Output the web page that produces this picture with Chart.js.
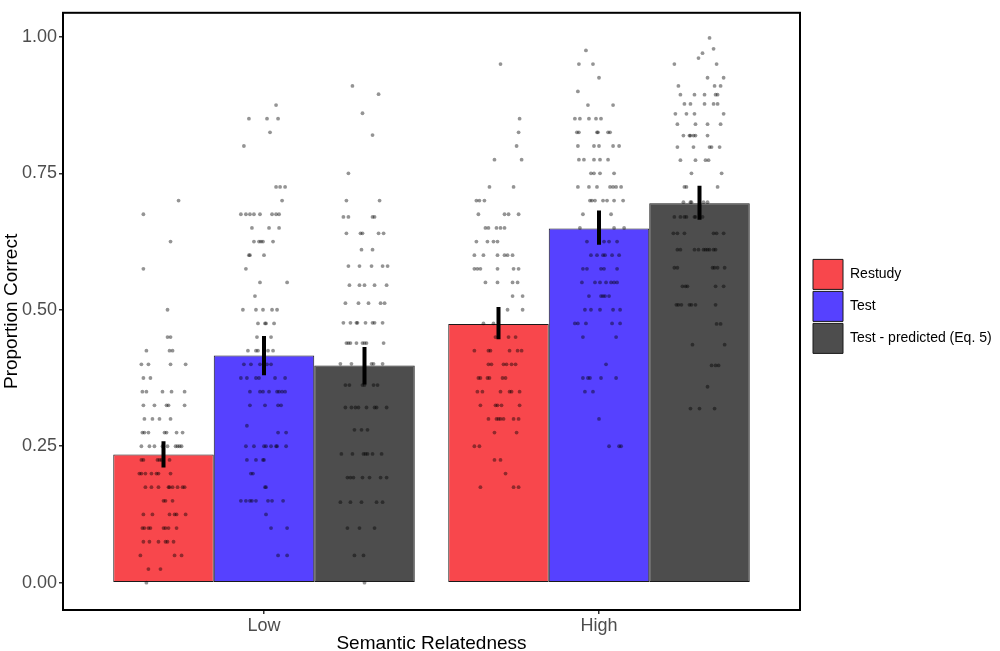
<!DOCTYPE html>
<html>
<head>
<meta charset="utf-8">
<script src="https://cdn.jsdelivr.net/npm/chart.js@4.4.1/dist/chart.umd.min.js"></script>
<style>
  html, body { margin: 0; padding: 0; background: #fff; }
  #wrap { width: 1000px; height: 651px; position: relative; }
</style>
</head>
<body>
<div id="wrap"><canvas id="chart"></canvas></div>
<script>
// x categories and legend entries
const categories = ['Low', 'High'];
const conditions = ['Restudy', 'Test', 'Test - predicted (Eq. 5)'];
const barColors = ['#f8474c', '#5641ff', '#4d4d4d'];
const yTicks = [0, 0.25, 0.5, 0.75, 1];

// bar heights (mean proportion correct) per category
const restudyMeans = [0.235, 0.474];
const testMeans = [0.416, 0.649];
const predictedMeans = [0.398, 0.695];

// error bar [low, high] per category
const restudyErr = [[0.211, 0.259], [0.446, 0.505]];
const testErr = [[0.380, 0.452], [0.619, 0.682]];
const predictedErr = [[0.363, 0.432], [0.665, 0.727]];

// individual subjects: [score, [jitter in % of bar width, ...]]
const lowRestudyPts = [
  [0.70, [15]], [0.675, [-20]], [0.625, [7]], [0.575, [-20]], [0.50, [4]],
  [0.45, [4, 7]], [0.425, [-17, 6, 9]], [0.40, [-22, -15, 7, 22]], [0.375, [-20, -13]],
  [0.35, [-21, -17, -1, 8, 21]], [0.325, [-20, -9, 3, 5, 21]], [0.30, [-19, -11, -4, 7]],
  [0.275, [-21, -19, -15, 1, 3, 13, 19]], [0.25, [-22, -14, -9, -1, 4, 12, 14, 16, 18]],
  [0.225, [-22, -20, -6, -4, -2, 6]], [0.20, [-24, -22, -18, -12, -7, -5, 7]],
  [0.175, [-18, -12, -5, 5, 6, 9, 14, 19, 21]], [0.15, [0, 2, 9]],
  [0.125, [-20, -11, 6, 11, 13, 22]], [0.10, [-21, -19, -15, -13, 0, 2, 5, 13]],
  [0.075, [-20, -14, -5, 2, 4, 10]], [0.05, [-23, 11, 18]], [0.025, [-15, -3]], [0.0, [-17]]
];
const lowTestPts = [
  [0.875, [12]], [0.85, [-15, 3, 14]], [0.825, [6]], [0.80, [-20]], [0.725, [12, 16, 21]],
  [0.70, [18]], [0.675, [-23, -18, -14, -10, -4, 8, 12, 15]], [0.65, [-12, 5, 15]],
  [0.625, [-10, -5, -3, -1, 9]], [0.60, [-15, -14, 0]], [0.575, [-18]], [0.55, [-4, 23]],
  [0.525, [-9]], [0.50, [-21, -8, -1, 8, 13]], [0.475, [-6, 1, 2, 10]], [0.45, [-7, 7]],
  [0.425, [-16, -8, -6, 4, 9]], [0.40, [-20, -13, -4, 3, 7]], [0.375, [-23, -17, -8, -5, 11, 21]],
  [0.35, [-14, -4, -1, 5, 13, 15, 18, 21]], [0.325, [-14, 1, 14, 17]], [0.2875, [-17]],
  [0.275, [14, 22]], [0.25, [-18, -10, 0, 2, 7, 12, 13, 22]], [0.225, [-17, -8, -1, 0]],
  [0.20, [-13, -11]], [0.175, [1, 2]], [0.15, [-23, -18, -14, -12, -8, 4, 8, 19]],
  [0.125, [2]], [0.10, [7, 23]], [0.05, [14, 23]]
];
const lowPredictedPts = [
  [0.91, [-12]], [0.895, [14]], [0.86, [-2]], [0.82, [8]], [0.75, [-16]], [0.70, [-18, 15]],
  [0.67, [-21, -16, 8, 10]], [0.64, [-18, -4, -2, 14, 19]], [0.61, [-3, 8]],
  [0.58, [-16, -5, 7, 18, 23]], [0.545, [-15, -5, 0, 10, 22]], [0.512, [-19, -6, 4, 16, 20]],
  [0.476, [-21, -14, -8, -7, 1, 8, 10, 18]], [0.439, [-18, -16, -14, -8, -2, 0, 2, 19]],
  [0.401, [-24, -13, 7, 9, 18]], [0.362, [-19, -15, -2, 0, 9, 13]],
  [0.321, [-19, -13, -9, -6, 2, 10, 12, 22]], [0.28, [-10, -3, 3]],
  [0.236, [-23, -12, -1, 1, 3, 8, 17]], [0.1925, [-17, -14, -11, -2, 5, 16, 22]],
  [0.1475, [-24, -14, -3, 12, 18]], [0.10, [-17, -5, 10]], [0.05, [-10, -1]], [0.0, [0]]
];
const highRestudyPts = [
  [0.95, [2]], [0.85, [21]], [0.825, [20]], [0.80, [18]], [0.775, [-4, 23]], [0.725, [-9, 15]],
  [0.70, [-22, -19, -14]], [0.675, [-20, 6, 10, 20]], [0.65, [-13, -10, -2, 2, 6]],
  [0.625, [-22, -11, -5, -1]], [0.60, [-24, -15, -1, 6, 9, 14]], [0.575, [-24, -21, -18, -1, 15, 20]],
  [0.55, [-13, -1, 14, 19]], [0.525, [14, 24]], [0.50, [9, 24]], [0.475, [-15, -5]],
  [0.45, [-3, 10, 17]], [0.425, [-24, -10, -8, 11, 19, 23]], [0.40, [-10, -7, 5, 8, 13, 17]],
  [0.375, [-20, -18, -11, -9, 4, 7]], [0.35, [-21, -16, 2, 11, 13, 21]], [0.325, [-18, -3, -1, 3, 21]],
  [0.30, [-10, -2, 0, 2, 5, 15, 20]], [0.275, [-4, 18]], [0.25, [-24, -19]], [0.225, [-4, 2]],
  [0.20, [7]], [0.175, [-18, 15, 20]]
];
const highTestPts = [
  [0.975, [-13]], [0.95, [-20, -6]], [0.925, [0]], [0.90, [-21]], [0.875, [-11, 14]],
  [0.85, [-24, -19, -10, -3, 2]], [0.825, [-22, -20, -2, -1, 9, 11]], [0.80, [-21, -5, 0, 14, 20]],
  [0.775, [-20, -15, -5, 1, 9]], [0.75, [-8, -5, 1, 15]], [0.725, [-21, -10, -2, 11, 14, 17, 22]],
  [0.70, [-9, -7, -4, 4, 8, 15, 24]], [0.675, [-16, 12]], [0.65, [-19, 15, 25]],
  [0.625, [-12, 5, 10, 18]], [0.60, [-8, -2, 4, 6, 13, 20]], [0.575, [-16, -12, 2, 5, 18]],
  [0.55, [-17, -4, 1, 7, 12, 15, 18]], [0.525, [-10, 2, 4, 6, 10]], [0.50, [-14, -8, 1, 14, 21]],
  [0.475, [-24, -21, -13, 13, 21]], [0.45, [-16, 17]], [0.40, [7]], [0.375, [-16, -11, -9, 2, 17]],
  [0.35, [-14, -6]], [0.30, [0]], [0.25, [10, 20, 22]]
];
const highPredictedPts = [
  [0.998, [10]], [0.978, [14]], [0.97, [3]], [0.961, [-1]], [0.95, [-25, 17]], [0.925, [8, 24]],
  [0.91, [-21, 15, 21]], [0.894, [-19, -5, 5, 16, 18]], [0.877, [-15, -9, 5, 14, 18]],
  [0.859, [-24, -13, -5, 24]], [0.84, [-22, -4, 8, 21]], [0.819, [-16, -10, -9, -6, -4, 8]],
  [0.798, [-22, -6, 10, 12, 20]], [0.774, [-19, -4, 6, 9]], [0.75, [-8, 22]], [0.725, [-15, -13, 18]],
  [0.697, [-16, -9, -8, 4, 8]], [0.67, [-25, -19, -15, -13, -5, -4, 3]],
  [0.64, [-26, -22, -15, 14, 17, 24]], [0.61, [-22, -19, -5, -1, 4, 6, 8, 10, 14, 16]],
  [0.577, [-25, -22, 13, 15, 18, 25]], [0.543, [-17, -14, -12, 16, 24]],
  [0.509, [-23, -21, -18, -10, -8, -4, 16]], [0.474, [17, 21]], [0.436, [-7, 25]],
  [0.398, [12, 16, 19]], [0.359, [8]], [0.319, [-9, 0, 15]]
];

const means = [restudyMeans, testMeans, predictedMeans];
const errs = [restudyErr, testErr, predictedErr];
const points = [
  [lowRestudyPts, highRestudyPts],
  [lowTestPts, highTestPts],
  [lowPredictedPts, highPredictedPts]
];

// ggplot style dodge: 0.9 of a category split into three bars
const dodge = 0.9 / 3;

function jitterPoints(k) {
  const out = [];
  points[k].forEach((rows, c) => {
    rows.forEach(([y, offs]) => {
      offs.forEach(o => out.push({ x: c + 1 + (k - 1) * dodge + o / 100 * dodge, y: y }));
    });
  });
  return out;
}

function errorSegments(k) {
  const out = [];
  errs[k].forEach(([lo, hi], c) => {
    const x = c + 1 + (k - 1) * dodge;
    out.push({ x: x, y: lo }, { x: x, y: hi }, { x: x, y: null });
  });
  return out;
}

const datasets = [];
conditions.forEach((name, k) => {
  datasets.push({
    type: 'bar',
    label: name,
    data: means[k].map((v, c) => ({ x: c + 1, y: v })),
    backgroundColor: barColors[k],
    borderColor: '#1a1a1a',
    borderWidth: 1,
    borderSkipped: false,
    barPercentage: 1,
    categoryPercentage: 0.9,
    order: 3
  });
});
conditions.forEach((name, k) => {
  datasets.push({
    type: 'scatter',
    label: name + ' subjects',
    data: jitterPoints(k),
    pointRadius: 1.9,
    pointBorderWidth: 0,
    backgroundColor: 'rgba(0,0,0,0.42)',
    order: 2
  });
});
conditions.forEach((name, k) => {
  datasets.push({
    type: 'line',
    label: name + ' error',
    data: errorSegments(k),
    borderColor: '#000',
    borderWidth: 4,
    borderCapStyle: 'butt',
    pointRadius: 0,
    fill: false,
    spanGaps: false,
    order: 1
  });
});

// black frame around the panel
const panelBorder = {
  id: 'panelBorder',
  afterDraw(chart) {
    const { ctx, chartArea: a } = chart;
    ctx.save();
    ctx.strokeStyle = '#000';
    ctx.lineWidth = 2;
    ctx.strokeRect(a.left, a.top, a.right - a.left, a.bottom - a.top);
    ctx.restore();
  }
};

// legend keys sit a little higher in the original
const legendNudge = -5;
const legendLift = {
  id: 'legendLift',
  afterLayout(chart) {
    const lg = chart.legend;
    if (!lg) return;
    lg.top += legendNudge;
    lg.bottom += legendNudge;
  }
};

Chart.defaults.font.family = "'Liberation Sans', Arial, sans-serif";

new Chart(document.getElementById('chart'), {
  type: 'bar',
  data: { datasets: datasets },
  options: {
    responsive: true,
    maintainAspectRatio: false,
    animation: false,
    layout: { padding: { top: 3, right: 0, bottom: 0, left: 0 } },
    plugins: {
      tooltip: { enabled: false },
      legend: {
        position: 'right',
        align: 'center',
        fullSize: false,
        maxWidth: 189,
        labels: {
          boxWidth: 30,
          boxHeight: 30,
          padding: 2,
          color: '#000',
          font: { size: 14 },
          filter: item => item.datasetIndex < 3
        }
      }
    },
    scales: {
      x: {
        type: 'linear',
        offset: false,
        min: 0.4,
        max: 2.6,
        afterBuildTicks: s => { s.ticks = categories.map((c, i) => ({ value: i + 1 })); },
        afterFit: s => { s.height = 41; },
        ticks: { callback: v => categories[v - 1], color: '#4d4d4d', font: { size: 18 }, padding: 1, maxRotation: 0, autoSkip: false },
        grid: { offset: false, drawOnChartArea: false, tickLength: 4, color: '#333', lineWidth: 1.5 },
        border: { display: false },
        title: { display: true, text: 'Semantic Relatedness', color: '#000', font: { size: 19, lineHeight: 1 }, padding: { top: 0, bottom: -2 } }
      },
      y: {
        min: -0.05,
        max: 1.044,
        afterBuildTicks: s => { s.ticks = yTicks.map(v => ({ value: v })); },
        afterFit: s => { s.width = 63; },
        ticks: { callback: v => v.toFixed(2), color: '#4d4d4d', font: { size: 18 }, padding: 2 },
        grid: { drawOnChartArea: false, tickLength: 4, color: '#333', lineWidth: 1.5 },
        border: { display: false },
        title: { display: true, text: 'Proportion Correct', color: '#000', font: { size: 19, lineHeight: 1 }, padding: { top: 2, bottom: 0 } }
      },
      gap: {
        type: 'linear',
        position: 'right',
        afterFit: s => { s.width = 11; },
        ticks: { display: false },
        grid: { display: false },
        border: { display: false }
      }
    }
  },
  plugins: [panelBorder, legendLift]
});
</script>
</body>
</html>
